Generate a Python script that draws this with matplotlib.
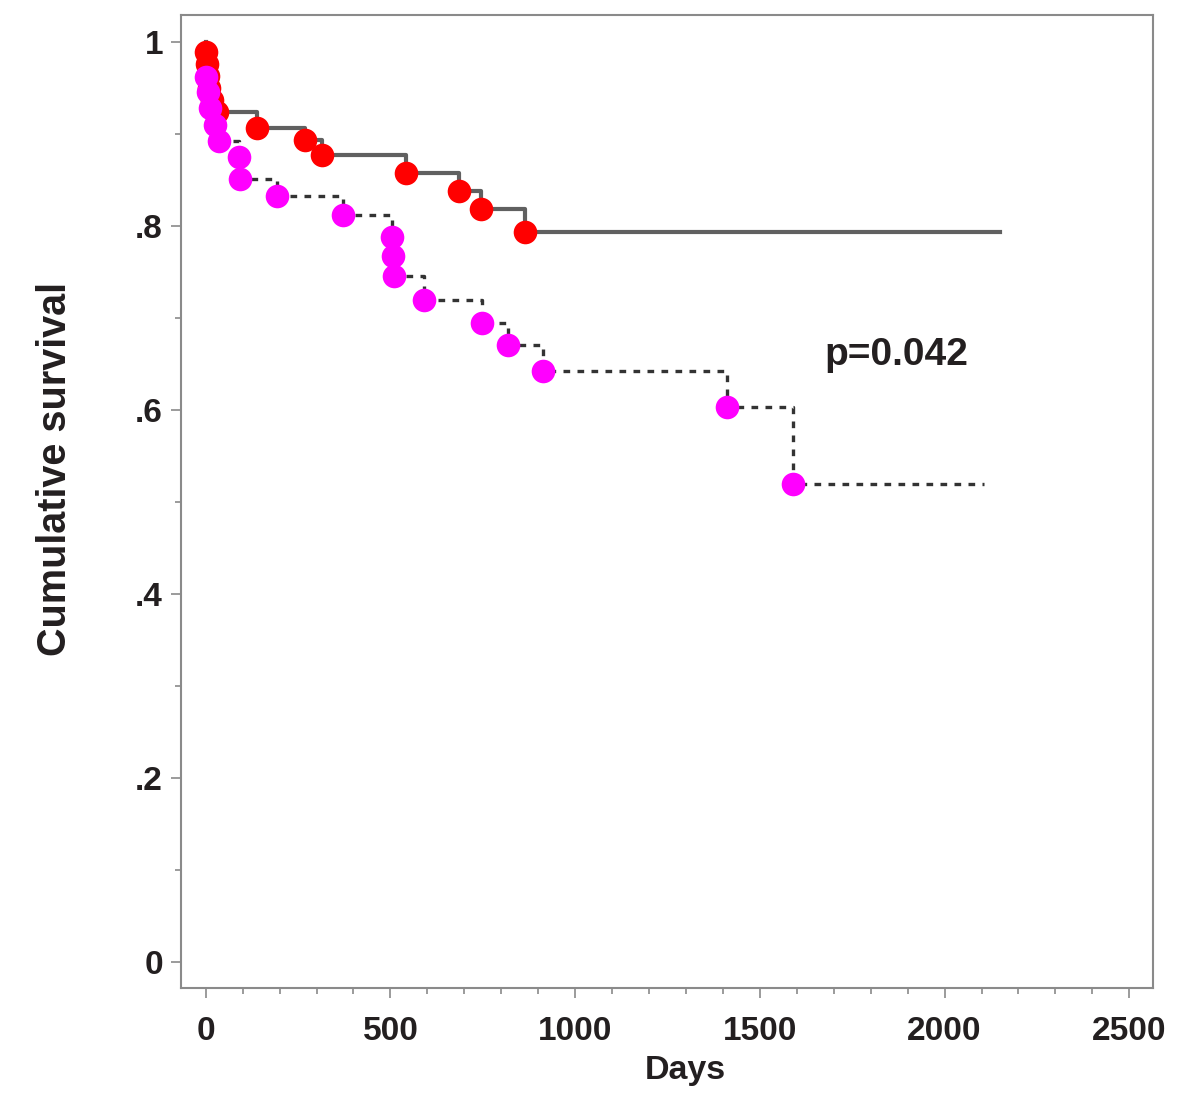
import matplotlib
matplotlib.use("Agg")
import matplotlib.pyplot as plt
from matplotlib.ticker import MultipleLocator, FixedLocator

plt.rcParams['font.family'] = ['Liberation Sans', 'DejaVu Sans']

# group 1 (red dots, solid line)
red_days = [0, 3, 6, 10, 18, 30, 138, 268, 315, 541, 685, 745, 865]
red_surv = [0.989, 0.976, 0.963, 0.950, 0.937, 0.924, 0.906, 0.893, 0.877, 0.857, 0.838, 0.818, 0.793]
red_end = 2150

# group 2 (magenta dots, dotted line)
mag_days = [0, 5, 12, 25, 36, 89, 92, 192, 371, 503, 507, 510, 590, 747, 818, 913, 1412, 1591]
mag_surv = [0.962, 0.945, 0.928, 0.910, 0.892, 0.875, 0.851, 0.832, 0.812, 0.788, 0.767, 0.745,
            0.719, 0.694, 0.670, 0.642, 0.603, 0.519]
mag_end = 2107

y_ticks = [0, 0.2, 0.4, 0.6, 0.8, 1.0]
y_labels = ["0", ".2", ".4", ".6", ".8", "1"]
x_ticks = [0, 500, 1000, 1500, 2000, 2500]

txt_col = "#231f20"
axis_col = "#8a8a8a"


def km_line(days, surv, end):
    xs = [0] + days + [end]
    ys = [1.0] + surv + [surv[-1]]
    return xs, ys


fig = plt.figure(figsize=(12, 11.06), dpi=100)
ax = fig.add_axes([0.1508, 0.1067, 0.81, 0.8797])

xs, ys = km_line(red_days, red_surv, red_end)
ax.step(xs, ys, where="post", color="#606060", lw=3, zorder=2)
ax.plot(red_days, red_surv, "o", color="#ff0000", ms=17, mew=0, zorder=3)

xs, ys = km_line(mag_days, mag_surv, mag_end)
ax.step(xs, ys, where="post", color="#333333", lw=2.4, ls=(0, (2, 2.2)), zorder=2)
ax.plot(mag_days, mag_surv, "o", color="#ff00ff", ms=17, mew=0, zorder=4)

ax.set_xlim(-67, 2564)
ax.set_ylim(-0.0286, 1.029)

ax.xaxis.set_major_locator(FixedLocator(x_ticks))
ax.xaxis.set_minor_locator(MultipleLocator(100))
ax.yaxis.set_major_locator(FixedLocator(y_ticks))
ax.yaxis.set_minor_locator(MultipleLocator(0.1))
ax.set_yticklabels(y_labels)

for s in ax.spines.values():
    s.set_color(axis_col)
    s.set_linewidth(1.5)

ax.tick_params(axis="both", which="both", colors=axis_col, labelcolor=txt_col, width=1.2)
ax.tick_params(axis="x", which="major", length=7, pad=13, labelsize=24)
ax.tick_params(axis="x", which="minor", length=4)
ax.tick_params(axis="y", which="major", length=7, pad=6, labelsize=24)
ax.tick_params(axis="y", which="minor", length=4)
for lab in ax.get_xticklabels() + ax.get_yticklabels():
    lab.set_fontweight("bold")

ax.text(1675, 0.66, "p=0.042", fontsize=28, fontweight="bold", color=txt_col, va="center", ha="left")

fig.text(0.571, 0.032, "Days", fontsize=24.5, fontweight="bold", color=txt_col, ha="center", va="center")
fig.text(0.046, 0.576, "Cumulative survival", fontsize=28.5, fontweight="bold", color=txt_col,
         rotation=90, ha="center", va="center")

fig.savefig("out.png", dpi=100)
